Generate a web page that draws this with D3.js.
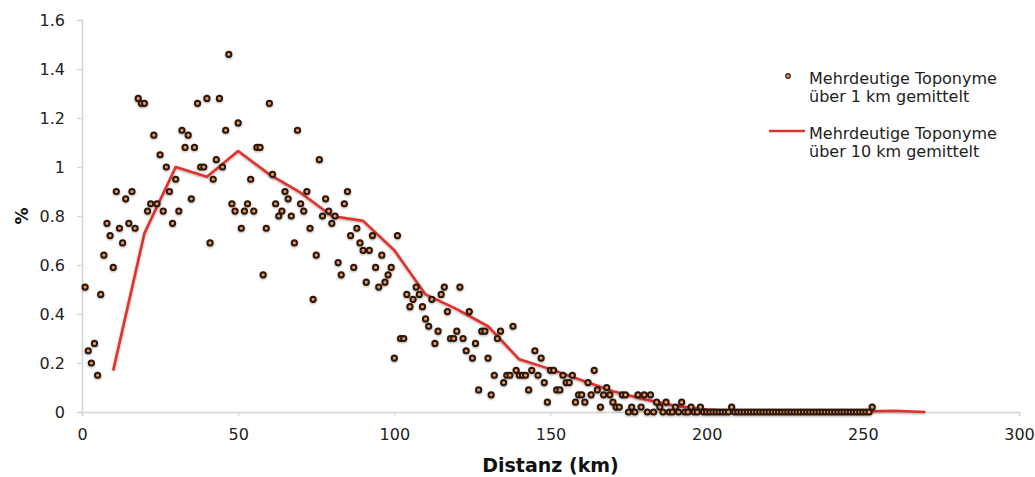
<!DOCTYPE html>
<html>
<head>
<meta charset="utf-8">
<script src="https://cdn.jsdelivr.net/npm/d3@7"></script>
<style>
  body { margin: 0; background: #fff; }
  svg { display: block; font-family: Verdana, "DejaVu Sans", sans-serif; }
</style>
</head>
<body>
<div id="chart"></div>
<script>
// share of ambiguous toponyms (%) per 1 km, starting at km 1
const firstKm = 1;
const perKmValues = [
  .51, .25, .20, .28, .15, .48, .64, .77, .72, .59,
  .90, .75, .69, .87, .77, .90, .75, 1.28, 1.26, 1.26,
  .82, .85, 1.13, .85, 1.05, .82, 1.00, .90, .77, .95,
  .82, 1.15, 1.08, 1.13, .87, 1.08, 1.26, 1.00, 1.00, 1.28,
  .69, .95, 1.03, 1.28, 1.00, 1.15, 1.46, .85, .82, 1.18,
  .75, .82, .85, .95, .82, 1.08, 1.08, .56, .75, 1.26,
  .97, .85, .80, .82, .90, .87, .80, .69, 1.15, .85,
  .82, .90, .75, .46, .64, 1.03, .80, .87, .82, .77,
  .80, .61, .56, .85, .90, .72, .59, .75, .69, .66,
  .53, .66, .72, .59, .51, .64, .53, .56, .59, .22,
  .72, .30, .30, .48, .43, .46, .51, .48, .43, .38,
  .35, .46, .28, .33, .48, .51, .41, .30, .30, .33,
  .51, .30, .25, .41, .22, .28, .09, .33, .33, .22,
  .07, .15, .30, .33, .12, .15, .15, .35, .17, .15,
  .15, .15, .09, .17, .25, .15, .22, .12, .04, .17,
  .17, .09, .09, .15, .12, .12, .15, .04, .07, .07,
  .04, .12, .07, .17, .09, .02, .07, .10, .07, .04,
  .02, .02, .07, .07, 0, .02, 0, .07, .02, .07,
  0, .07, 0, .04, .02, 0, .04, 0, 0, .02,
  0, .04, 0, 0, .02, 0, 0, .02, 0, 0,
  0, 0, 0, 0, 0, 0, 0, .02, 0, 0,
  0, 0, 0, 0, 0, 0, 0, 0, 0, 0,
  0, 0, 0, 0, 0, 0, 0, 0, 0, 0,
  0, 0, 0, 0, 0, 0, 0, 0, 0, 0,
  0, 0, 0, 0, 0, 0, 0, 0, 0, 0,
  0, 0, .02
];

// 10 km averages
const tenKmDist = [10, 20, 30, 40, 50, 60, 70, 80, 90, 100, 110, 120, 130, 140,
  150, 160, 170, 180, 190, 200, 210, 220, 230, 240, 250, 260, 270];
const tenKmValues = [.17, .73, 1.0, .96, 1.065, .97, .895, .80, .78, .66, .48, .42, .35, .215,
  .175, .13, .085, .052, .025, .01, .003, .002, .002, .002, .002, .005, 0];

const xTicks = [0, 50, 100, 150, 200, 250, 300];
const yTicks = [0, 0.2, 0.4, 0.6, 0.8, 1, 1.2, 1.4, 1.6];

const legendLabels = [
  ["Mehrdeutige Toponyme", "über 1 km gemittelt"],
  ["Mehrdeutige Toponyme", "über 10 km gemittelt"]
];

const W = 1035, H = 477;
const margin = { top: 20, right: 16, bottom: 65, left: 82 };

const svg = d3.select("#chart").append("svg")
  .attr("width", W)
  .attr("height", H);

const defs = svg.append("defs");
defs.append("filter").attr("id", "shadow")
  .attr("x", "-50%").attr("y", "-50%").attr("width", "200%").attr("height", "200%")
  .append("feDropShadow")
  .attr("dx", 0).attr("dy", 1).attr("stdDeviation", 0.8)
  .attr("flood-color", "#000").attr("flood-opacity", 0.35);

const x = d3.scaleLinear().domain([0, 300]).range([margin.left, W - margin.right]);
const y = d3.scaleLinear().domain([0, 1.6]).range([H - margin.bottom, margin.top]);

const axisColor = "#d4d4d4";

const xAxis = svg.append("g")
  .attr("transform", `translate(0,${y(0)})`)
  .call(d3.axisBottom(x).tickValues(xTicks).tickSize(4).tickPadding(13));
const yAxis = svg.append("g")
  .attr("transform", `translate(${x(0)},0)`)
  .call(d3.axisLeft(y).tickValues(yTicks).tickSize(5).tickPadding(12)
    .tickFormat(d => d3.format("~g")(d)));

[xAxis, yAxis].forEach(a => {
  a.select(".domain").attr("stroke", axisColor).attr("stroke-width", 1.5);
  a.selectAll(".tick line").attr("stroke", axisColor).attr("stroke-width", 1.2);
  a.selectAll(".tick text")
    .attr("fill", "#222")
    .style("font-size", "16px")
    .style("font-family", 'Verdana, "DejaVu Sans", sans-serif');
});

svg.append("text")
  .attr("x", (x(0) + x(300)) / 2)
  .attr("y", 472)
  .attr("text-anchor", "middle")
  .attr("fill", "#111")
  .style("font-size", "19px")
  .style("font-weight", "bold")
  .text("Distanz (km)");

svg.append("text")
  .attr("transform", `translate(28,${y(0.8)}) rotate(-90)`)
  .attr("text-anchor", "middle")
  .attr("fill", "#111")
  .style("font-size", "17px")
  .style("font-weight", "bold")
  .text("%");

// 10 km line
const line = d3.line().x(d => x(d[0])).y(d => y(d[1]));
svg.append("path")
  .datum(tenKmDist.map((d, i) => [d, tenKmValues[i]]))
  .attr("d", line)
  .attr("fill", "none")
  .attr("stroke", "#e0332c")
  .attr("stroke-width", 2.6)
  .attr("stroke-linejoin", "round")
  .attr("filter", "url(#shadow)");

// 1 km points
const pts = perKmValues.map((v, i) => ({ km: firstKm + i, v }));
svg.append("g")
  .attr("filter", "url(#shadow)")
  .selectAll("circle")
  .data(pts)
  .enter().append("circle")
  .attr("cx", d => x(d.km))
  .attr("cy", d => y(d.v))
  .attr("r", 2.6)
  .attr("fill", "#ec9a55")
  .attr("stroke", "#2b1709")
  .attr("stroke-width", 2);

// legend
const legend = svg.append("g").attr("transform", "translate(809,0)");
legend.append("circle")
  .attr("cx", -21).attr("cy", 76).attr("r", 2.2)
  .attr("fill", "#ec9a55").attr("stroke", "#4a2a14").attr("stroke-width", 1.4);
legend.append("line")
  .attr("x1", -40).attr("x2", -4).attr("y1", 131).attr("y2", 131)
  .attr("stroke", "#e0332c").attr("stroke-width", 2.6);

const legendY = [84, 139];
legendLabels.forEach((lines, i) => {
  lines.forEach((t, j) => {
    legend.append("text")
      .attr("x", 0)
      .attr("y", legendY[i] + j * 18)
      .attr("fill", "#222")
      .style("font-size", "16px")
      .text(t);
  });
});
</script>
</body>
</html>
